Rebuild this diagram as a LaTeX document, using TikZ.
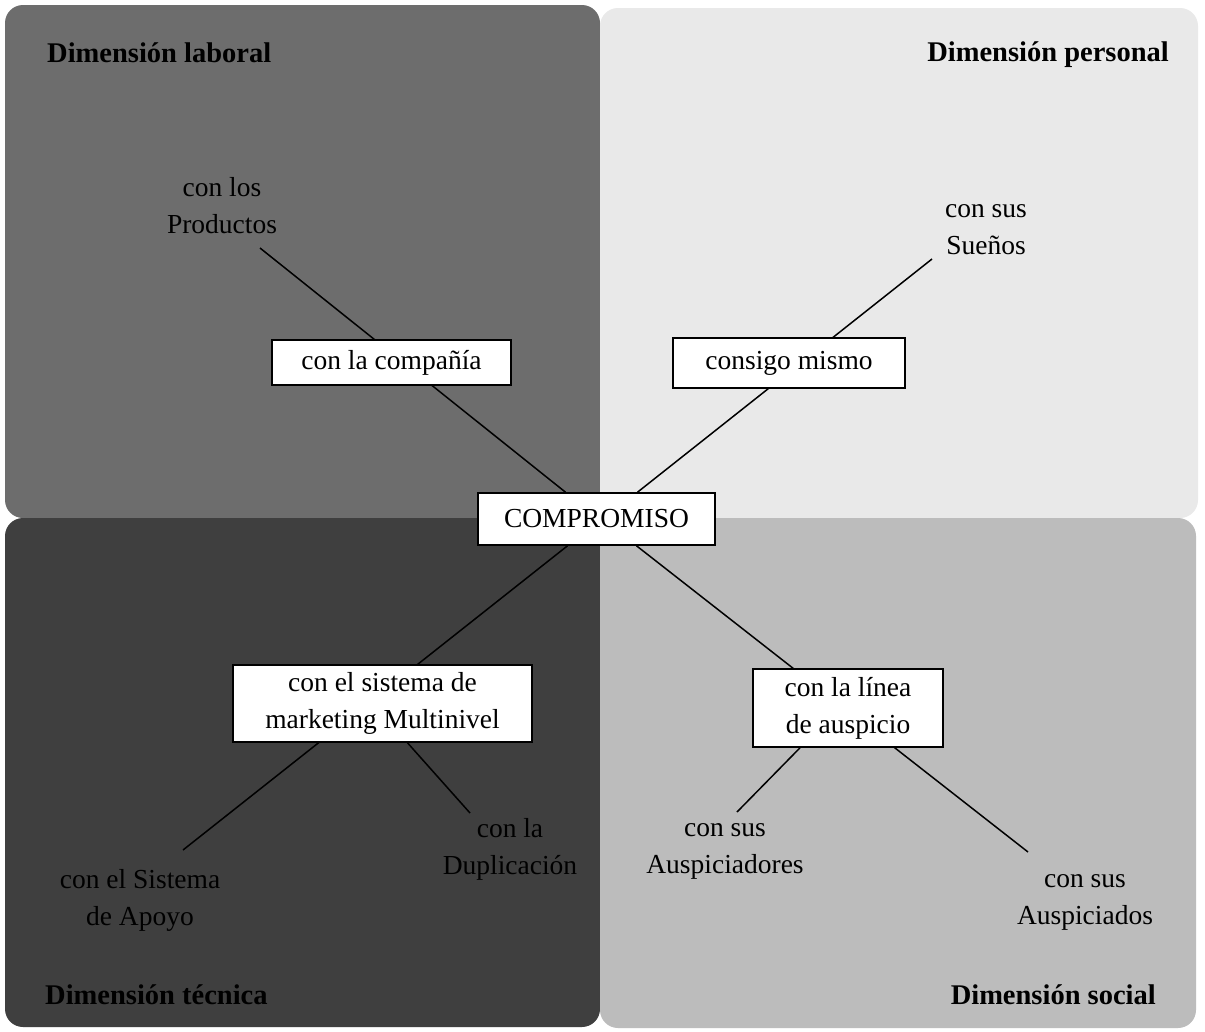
\documentclass[tikz,border=0pt]{standalone}
\usepackage{fontspec}
\setmainfont{Liberation Serif}
\usetikzlibrary{calc}
\pgfdeclarelayer{panels}
\pgfdeclarelayer{links}
\pgfsetlayers{panels,links,main}
\definecolor{laboral}{HTML}{6D6D6D}
\definecolor{personal}{HTML}{E9E9E9}
\definecolor{tecnica}{HTML}{3F3F3F}
\definecolor{social}{HTML}{BCBCBC}
\begin{document}
\begin{tikzpicture}[x=1pt,y=-1pt,
  every node/.style={font=\fontsize{27.5}{37}\selectfont, align=center},
  box/.style={draw=black, line width=1.6pt, fill=white, inner sep=0pt},
  leaf/.style={inner sep=0pt},
  dimlabel/.style={font=\fontsize{28.5}{34}\selectfont\bfseries, inner sep=0pt},
  link/.style={line width=1.5pt, draw=black},
  panel/.style={rounded corners=18pt}
]
\useasboundingbox (0,0) rectangle (1205,1031);

% quadrant panels
\begin{pgfonlayer}{panels}
  \fill[white] (0,0) rectangle (1205,1031);
  \fill[panel, laboral]  (5,5)    rectangle (600,518);
  \fill[panel, personal] (600,8)  rectangle (1198,518);
  \fill[panel, tecnica]  (5,518)  rectangle (600,1027);
  \fill[panel, social]   (600,518) rectangle (1196,1028);
\end{pgfonlayer}

% dimension titles
\node[dimlabel, anchor=west] (tlab) at (47,53)   {Dimensión laboral};
\node[dimlabel, anchor=east] (plab) at (1169,55) {Dimensión personal};
\node[dimlabel, anchor=west] (teclab) at (45,995) {Dimensión técnica};
\node[dimlabel, anchor=east] (slab) at (1156,995) {Dimensión social};

% boxed concepts
\node[box, minimum width=237, minimum height=52] (comp) at (596.5,519) {COMPROMISO};
\node[box, minimum width=239, minimum height=45] (cia)  at (391.5,362.5) {con la compañía};
\node[box, minimum width=232, minimum height=50] (mismo) at (789,363) {consigo mismo};
\node[box, minimum width=299, minimum height=77] (mkt) at (382.5,703.5) {con el sistema de\\marketing Multinivel};
\node[box, minimum width=190, minimum height=78] (lin) at (848,708) {con la línea\\de auspicio};

% free labels
\node[leaf] (prod)  at (222,206)  {con los\\Productos};
\node[leaf] (sue)   at (986,230)  {con sus\\Sueños};
\node[leaf] (apoyo) at (140,900)  {con el Sistema\\de Apoyo};
\node[leaf] (dup)   at (510,849)  {con la\\Duplicación};
\node[leaf] (aus1)  at (725,851)  {con sus\\Auspiciadores};
\node[leaf] (aus2)  at (1085,902) {con sus\\Auspiciados};

% loose ends of the connectors
\coordinate (eprod)  at (260,248);
\coordinate (esue)   at (932,259);
\coordinate (eapoyo) at (183,850);
\coordinate (edup)   at (470,813);
\coordinate (eaus1)  at (737,812);
\coordinate (eaus2)  at (1028,852);

\begin{pgfonlayer}{links}
  \draw[link] (eprod) -- ($(comp.north)+(-31,0)$);
  \draw[link] (esue)  -- ($(comp.north)+(41,0)$);
  \draw[link] ($(comp.south)+(-29,0)$) -- (eapoyo);
  \draw[link] ($(comp.south)+(40,0)$)  -- (eaus2);
  \draw[link] ($(mkt.south)+(25,0)$)   -- (edup);
  \draw[link] ($(lin.south)+(-48,0)$)  -- (eaus1);
\end{pgfonlayer}
\end{tikzpicture}
\end{document}
